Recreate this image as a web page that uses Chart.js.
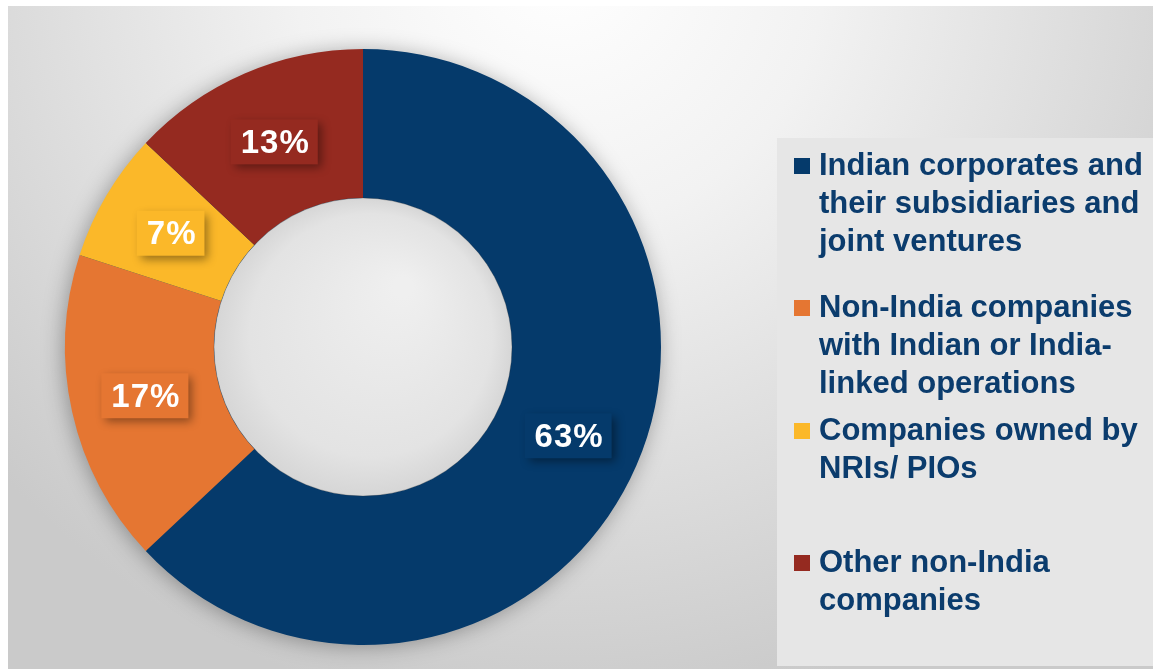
<!DOCTYPE html>
<html>
<head>
<meta charset="utf-8">
<script src="https://cdn.jsdelivr.net/npm/chart.js@4.4.0/dist/chart.umd.min.js"></script>
<style>
  html, body { margin: 0; padding: 0; background: #fff; }
  #wrap { width: 1153px; height: 669px; position: relative; }
</style>
</head>
<body>
<div id="wrap"><canvas id="donut"></canvas></div>
<script>
// data
var categories = [
    ["Indian corporates and", "their subsidiaries and", "joint ventures"],
    ["Non-India companies", "with Indian or India-", "linked operations"],
    ["Companies owned by", "NRIs/ PIOs"],
    ["Other non-India", "companies"]
];
var shares = [63, 17, 7, 13];
var sliceColors = ['#053a6b', '#e57632', '#fbb829', '#952a20'];

var textBlue = '#0b3c6d';
var fontFam = '"Liberation Sans", Arial, sans-serif';

// background + legend panel
var backdrop = {
    id: 'backdrop',
    beforeDraw: function (chart) {
        var c = chart.ctx;
        c.save();
        c.fillStyle = '#ffffff';
        c.fillRect(0, 0, chart.width, chart.height);
        var g = c.createRadialGradient(560, -40, 0, 560, -40, 760);
        g.addColorStop(0, '#ffffff');
        g.addColorStop(0.35, '#f2f2f2');
        g.addColorStop(1, '#cacaca');
        c.fillStyle = g;
        c.fillRect(8, 6, chart.width - 8, chart.height - 6);
        // legend panel
        c.fillStyle = '#e6e6e6';
        c.fillRect(777, 138, chart.width - 777, 528);
        c.restore();
    },
    beforeDatasetsDraw: function (chart) {
        // soft shadow behind the ring
        var arc = chart.getDatasetMeta(0).data[0];
        var c = chart.ctx;
        c.save();
        c.shadowColor = 'rgba(0,0,0,0.35)';
        c.shadowBlur = 22;
        c.shadowOffsetX = -2;
        c.shadowOffsetY = 2;
        c.beginPath();
        c.arc(arc.x, arc.y, arc.outerRadius - 1, 0, Math.PI * 2);
        c.fillStyle = sliceColors[0];
        c.fill();
        c.restore();
    }
};

// hole, value boxes and the legend
var extras = {
    id: 'extras',
    afterDatasetsDraw: function (chart) {
        var c = chart.ctx;
        var meta = chart.getDatasetMeta(0);
        var a0 = meta.data[0];

        // hole
        c.save();
        var hg = c.createRadialGradient(a0.x + 40, a0.y - 60, 10, a0.x, a0.y, a0.innerRadius);
        hg.addColorStop(0, '#efefef');
        hg.addColorStop(0.8, '#e3e3e3');
        hg.addColorStop(1, '#d6d6d6');
        c.beginPath();
        c.arc(a0.x, a0.y, a0.innerRadius, 0, Math.PI * 2);
        c.fillStyle = hg;
        c.fill();
        c.lineWidth = 1;
        c.strokeStyle = 'rgba(40,40,40,0.25)';
        c.stroke();
        c.restore();

        // value boxes
        c.save();
        c.font = 'bold 33px ' + fontFam;
        c.letterSpacing = '1px';
        c.textAlign = 'center';
        c.textBaseline = 'middle';
        meta.data.forEach(function (arc, i) {
            var p = arc.tooltipPosition();
            var txt = shares[i] + '%';
            var w = c.measureText(txt).width + 18;
            var h = 45;
            c.save();
            c.shadowColor = 'rgba(0,0,0,0.4)';
            c.shadowBlur = 9;
            c.shadowOffsetX = 4;
            c.shadowOffsetY = 4;
            c.fillStyle = sliceColors[i];
            c.fillRect(p.x - w / 2, p.y - h / 2, w, h);
            c.restore();
            c.fillStyle = '#ffffff';
            c.fillText(txt, p.x + 1, p.y + 2);
        });
        c.restore();

        // legend
        var baselines = [175, 317, 440, 572];
        c.save();
        c.font = 'bold 31px ' + fontFam;
        c.textAlign = 'left';
        c.textBaseline = 'alphabetic';
        categories.forEach(function (lines, i) {
            var b = baselines[i];
            c.fillStyle = sliceColors[i];
            c.fillRect(794, b - 17, 16, 16);
            c.fillStyle = textBlue;
            lines.forEach(function (ln, k) {
                c.fillText(ln, 819, b + k * 38);
            });
        });
        c.restore();
    }
};

new Chart(document.getElementById('donut'), {
    type: 'doughnut',
    data: {
        labels: categories,
        datasets: [{
            data: shares,
            backgroundColor: sliceColors,
            borderWidth: 0
        }]
    },
    options: {
        responsive: true,
        maintainAspectRatio: false,
        animation: false,
        cutout: '50%',
        layout: { padding: { left: 65, right: 492, top: 49, bottom: 24 } },
        plugins: {
            legend: { display: false },
            tooltip: { enabled: false }
        }
    },
    plugins: [backdrop, extras]
});
</script>
</body>
</html>
